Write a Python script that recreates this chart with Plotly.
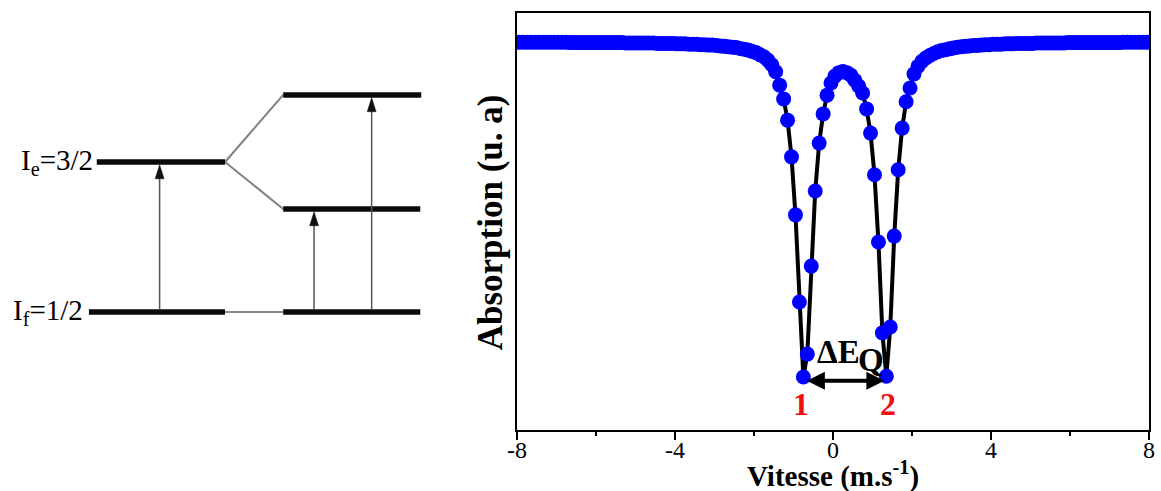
import plotly.graph_objects as go

# ---------------- Mössbauer spectrum data ----------------
velocity = [
    -7.95, -7.85, -7.75, -7.65, -7.55, -7.45, -7.35, -7.25, -7.15, -7.05,
    -6.95, -6.85, -6.75, -6.65, -6.55, -6.45, -6.35, -6.25, -6.15, -6.05,
    -5.95, -5.85, -5.75, -5.65, -5.55, -5.45, -5.35, -5.25, -5.15, -5.05,
    -4.95, -4.85, -4.75, -4.65, -4.55, -4.45, -4.35, -4.25, -4.15, -4.05,
    -3.95, -3.85, -3.75, -3.65, -3.55, -3.45, -3.35, -3.25, -3.15, -3.05,
    -2.95, -2.85, -2.75, -2.65, -2.55, -2.45, -2.35, -2.25, -2.15, -2.05,
    -1.95, -1.85, -1.75, -1.65, -1.55, -1.45, -1.35, -1.25, -1.15, -1.05,
    -0.95, -0.85, -0.75, -0.65, -0.55, -0.45, -0.35, -0.25, -0.15, -0.05,
    0.05, 0.15, 0.25, 0.35, 0.45, 0.55, 0.65, 0.75, 0.85, 0.95,
    1.05, 1.15, 1.25, 1.35, 1.45, 1.55, 1.65, 1.75, 1.85, 1.95,
    2.05, 2.15, 2.25, 2.35, 2.45, 2.55, 2.65, 2.75, 2.85, 2.95,
    3.05, 3.15, 3.25, 3.35, 3.45, 3.55, 3.65, 3.75, 3.85, 3.95,
    4.05, 4.15, 4.25, 4.35, 4.45, 4.55, 4.65, 4.75, 4.85, 4.95,
    5.05, 5.15, 5.25, 5.35, 5.45, 5.55, 5.65, 5.75, 5.85, 5.95,
    6.05, 6.15, 6.25, 6.35, 6.45, 6.55, 6.65, 6.75, 6.85, 6.95,
    7.05, 7.15, 7.25, 7.35, 7.45, 7.55, 7.65, 7.75, 7.85, 7.95,
]

absorption = [
    93.0, 93.0, 93.0, 93.0, 93.0, 93.0, 93.0, 93.0, 93.0, 93.0,
    93.0, 93.0, 93.0, 92.9, 92.9, 92.9, 92.9, 92.9, 92.9, 92.9,
    92.9, 92.9, 92.9, 92.9, 92.9, 92.9, 92.9, 92.8, 92.8, 92.8,
    92.8, 92.8, 92.8, 92.8, 92.8, 92.7, 92.7, 92.7, 92.7, 92.7,
    92.6, 92.6, 92.6, 92.5, 92.5, 92.5, 92.4, 92.4, 92.3, 92.3,
    92.2, 92.1, 92.0, 91.9, 91.8, 91.7, 91.5, 91.3, 91.1, 90.8,
    90.5, 90.0, 89.5, 88.7, 87.6, 85.9, 82.7, 79.4, 74.3, 65.5,
    51.6, 30.7, 12.7, 18.2, 39.3, 57.3, 68.8, 75.8, 80.3, 83.2,
    84.9, 85.7, 86.0, 85.7, 85.1, 83.9, 82.5, 80.8, 77.0, 71.2,
    61.2, 45.1, 23.3, 12.9, 24.7, 46.5, 62.4, 72.4, 78.7, 82.0,
    85.4, 87.2, 88.4, 89.2, 89.8, 90.3, 90.7, 91.0, 91.2, 91.4,
    91.6, 91.8, 91.9, 92.0, 92.1, 92.2, 92.2, 92.3, 92.4, 92.4,
    92.5, 92.5, 92.5, 92.6, 92.6, 92.6, 92.7, 92.7, 92.7, 92.7,
    92.7, 92.8, 92.8, 92.8, 92.8, 92.8, 92.8, 92.8, 92.8, 92.9,
    92.9, 92.9, 92.9, 92.9, 92.9, 92.9, 92.9, 92.9, 92.9, 92.9,
    92.9, 92.9, 92.9, 93.0, 93.0, 93.0, 93.0, 93.0, 93.0, 93.0,
]

x_tickvals = [-8, -4, 0, 4, 8]
x_ticktext = ["-8", "-4", "0", "4", "8"]
x_minor_tickvals = [-6, -2, 2, 6]

# ---------------- Energy-level diagram (schematic) ----------------
E_ground = 0.0
E_excited = 1.0
E_split_upper = 1.447
E_split_lower = 0.687
ground_left_x = [80, 218]
excited_left_x = [88, 218]
right_x = [277, 416]
transition_x = [151.7, 308.3, 366.7]
transition_E = [E_excited, E_split_lower, E_split_upper]

FONT = "Liberation Serif"
W, H = 1161, 491
M_T, M_B = 13, 61
PLOT_L, PLOT_R = 514, 1155
plot_h = H - M_T - M_B

px_per_E = 150.0
ground_px = 312.0
y2_top = (ground_px - M_T) / px_per_E
y2_bot = (ground_px - (H - M_B)) / px_per_E

fig = go.Figure()

fig.add_trace(go.Scatter(
    x=velocity, y=absorption, mode="lines+markers",
    line=dict(color="black", width=4),
    marker=dict(color="#0000ff", size=15, line=dict(width=0)),
    hoverinfo="skip", showlegend=False, xaxis="x", yaxis="y",
))

fig.add_trace(go.Scatter(x=[0], y=[0], mode="markers", marker=dict(opacity=0),
                         hoverinfo="skip", showlegend=False, xaxis="x2", yaxis="y2"))

shapes = []
def seg(x0, y0, x1, y1, color, width):
    shapes.append(dict(type="line", xref="x2", yref="y2", x0=x0, y0=y0, x1=x1, y1=y1,
                       line=dict(color=color, width=width)))

LEVEL_W = 5.5
seg(ground_left_x[1], E_ground, right_x[0], E_ground, "#8a8a8a", 2)
seg(excited_left_x[1], E_excited, right_x[0], E_split_upper, "#808080", 2)
seg(excited_left_x[1], E_excited, right_x[0], E_split_lower, "#808080", 2)
seg(ground_left_x[0], E_ground, ground_left_x[1], E_ground, "#0a0a0a", LEVEL_W)
seg(excited_left_x[0], E_excited, excited_left_x[1], E_excited, "#0a0a0a", LEVEL_W)
seg(right_x[0], E_ground, right_x[1], E_ground, "#0a0a0a", LEVEL_W)
seg(right_x[0], E_split_upper, right_x[1] + 1, E_split_upper, "#0a0a0a", LEVEL_W)
seg(right_x[0], E_split_lower, right_x[1], E_split_lower, "#0a0a0a", LEVEL_W)

half_level = (LEVEL_W / 2) / px_per_E
head_len = 14 / px_per_E
head_half_w = 4.5
for tx, te in zip(transition_x, transition_E):
    tip = te - half_level
    base = tip - head_len
    seg(tx, E_ground + half_level, tx, base + 0.01, "#555555", 1.5)
    shapes.append(dict(type="path", xref="x2", yref="y2",
                       path=f"M {tx - head_half_w},{base} L {tx + head_half_w},{base} L {tx},{tip} Z",
                       fillcolor="#111111", line=dict(color="#111111", width=0.5)))

annotations = []
annotations.append(dict(x=excited_left_x[0] - 2, y=E_excited, xref="x2", yref="y2",
                        text="I<sub>e</sub>=3/2", showarrow=False, xanchor="right", yanchor="middle",
                        font=dict(family=FONT, size=29, color="#000000")))
annotations.append(dict(x=ground_left_x[0] - 4, y=E_ground, xref="x2", yref="y2",
                        text="I<sub>f</sub>=1/2", showarrow=False, xanchor="right", yanchor="middle",
                        font=dict(family=FONT, size=29, color="#000000")))

n = len(velocity)
mid = 0.3
i1 = min((i for i in range(n) if velocity[i] < mid), key=lambda i: absorption[i])
i2 = min((i for i in range(n) if velocity[i] > mid), key=lambda i: absorption[i])
v1, v2 = velocity[i1], velocity[i2]
arrow_y = (absorption[i1] + absorption[i2]) / 2 - 1.0
annotations.append(dict(x=v2 - 0.05, y=arrow_y, ax=v1 + 0.05, ay=arrow_y,
                        xref="x", yref="y", axref="x", ayref="y", text="",
                        showarrow=True, arrowside="end+start", arrowhead=2, startarrowhead=2,
                        arrowsize=0.9, startarrowsize=0.9, arrowwidth=4, arrowcolor="black"))
annotations.append(dict(x=v1 + 0.89, y=arrow_y + 7.0, xref="x", yref="y", text="<b>ΔE</b>",
                        showarrow=False, xanchor="center", yanchor="middle",
                        font=dict(family=FONT, size=33, color="black")))
annotations.append(dict(x=v1 + 1.72, y=arrow_y + 4.9, xref="x", yref="y", text="<b>Q</b>",
                        showarrow=False, xanchor="center", yanchor="middle",
                        font=dict(family=FONT, size=33, color="black")))
annotations.append(dict(x=v1 - 0.05, y=arrow_y - 5.5, xref="x", yref="y", text="<b>1</b>",
                        showarrow=False, xanchor="center", yanchor="middle",
                        font=dict(family=FONT, size=32, color="#f01010")))
annotations.append(dict(x=v2 + 0.03, y=arrow_y - 5.5, xref="x", yref="y", text="<b>2</b>",
                        showarrow=False, xanchor="center", yanchor="middle",
                        font=dict(family=FONT, size=32, color="#f01010")))

annotations.append(dict(x=487 / W, y=(H - M_B - 222) / plot_h, xref="paper", yref="paper",
                        text="<b>Absorption (u. a)</b>", textangle=-90, showarrow=False,
                        xanchor="center", yanchor="middle",
                        font=dict(family=FONT, size=35, color="black")))
annotations.append(dict(x=(PLOT_L + PLOT_R) / 2 / W, y=-(474.5 - (H - M_B)) / plot_h,
                        xref="paper", yref="paper",
                        text="<b>Vitesse (m.s<sup>-1</sup>)</b>", showarrow=False,
                        xanchor="center", yanchor="middle",
                        font=dict(family=FONT, size=29, color="black")))

fig.update_layout(
    width=W, height=H,
    margin=dict(l=0, r=0, t=M_T, b=M_B),
    paper_bgcolor="white", plot_bgcolor="white",
    showlegend=False,
    shapes=shapes, annotations=annotations,
    xaxis=dict(domain=[PLOT_L / W, PLOT_R / W], range=[-8, 8],
               tickmode="array", tickvals=x_tickvals, ticktext=x_ticktext,
               ticks="outside", ticklen=8, tickwidth=1.5, tickcolor="black",
               showline=True, linecolor="black", linewidth=1.5, mirror=True,
               showgrid=False, zeroline=False, ticklabeloverflow="allow",
               ticklabelstandoff=-11,
               tickfont=dict(family=FONT, size=24, color="black"),
               minor=dict(tickmode="array", tickvals=x_minor_tickvals, ticks="outside",
                          ticklen=4, tickwidth=1.5, tickcolor="black", showgrid=False)),
    yaxis=dict(domain=[0, 1], range=[0, 100], showticklabels=False, ticks="",
               showline=True, linecolor="black", linewidth=1.5, mirror=True,
               showgrid=False, zeroline=False),
    xaxis2=dict(domain=[0, PLOT_L / W], range=[0, PLOT_L], visible=False, anchor="y2"),
    yaxis2=dict(domain=[0, 1], range=[y2_bot, y2_top], visible=False, anchor="x2"),
)

fig.write_html("out.html")
